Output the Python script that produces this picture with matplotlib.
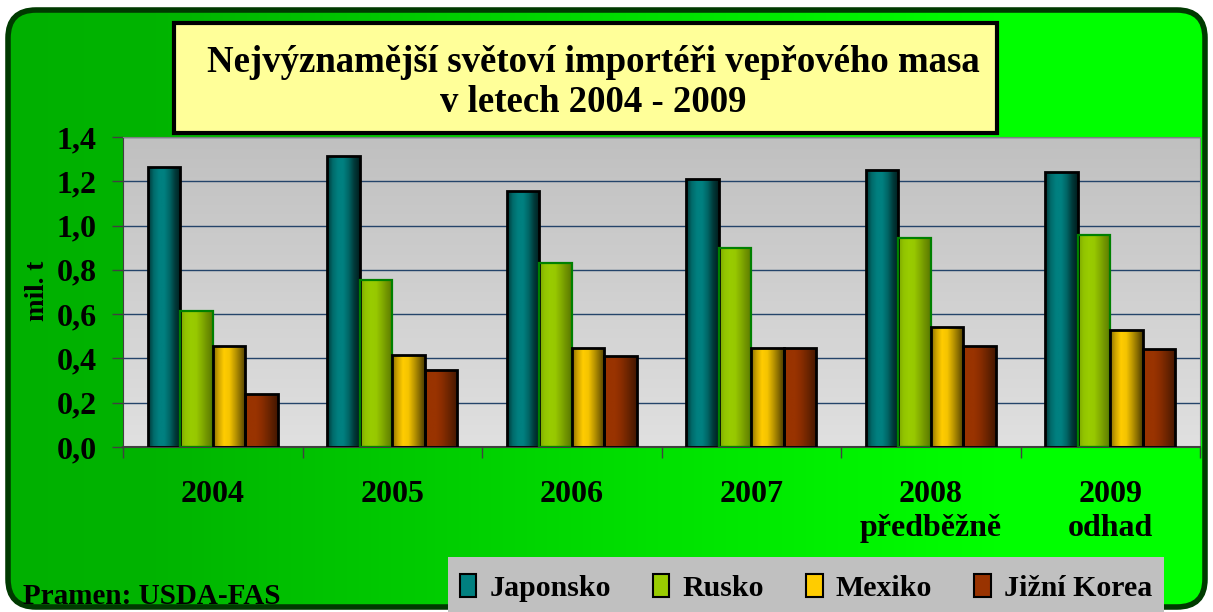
import numpy as np
import matplotlib
matplotlib.use('Agg')
import matplotlib.pyplot as plt
from matplotlib.patches import FancyBboxPatch, Rectangle, Patch
from matplotlib.colors import LinearSegmentedColormap

# data
years = ["2004", "2005", "2006", "2007", "2008\npředběžně", "2009\nodhad"]
series = ["Japonsko", "Rusko", "Mexiko", "Jižní Korea"]
japonsko = [1.266, 1.314, 1.156, 1.210, 1.251, 1.242]
rusko = [0.614, 0.754, 0.832, 0.897, 0.945, 0.959]
mexiko = [0.456, 0.415, 0.447, 0.447, 0.543, 0.528]
korea = [0.239, 0.349, 0.410, 0.447, 0.458, 0.443]

# barevne prechody sloupcu (zleva doprava)
grads = [
    ["#003535", "#006a6a", "#008080", "#008080", "#006464", "#003a3a", "#001e1e"],
    ["#7da600", "#92c400", "#99cc00", "#97c800", "#84ad00", "#6f9200", "#5a7800"],
    ["#8a6e00", "#d0a600", "#ffcc00", "#f5c400", "#c09a00", "#8a6e00", "#4d3d00"],
    ["#993300", "#993300", "#993300", "#8c2e00", "#752700", "#5c1f00", "#441700"],
]
solid = ["#008080", "#99cc00", "#ffcc00", "#993300"]
edges = ["black", "#008000", "black", "black"]

serif = "Liberation Serif"
W, H = 1213, 612
fig = plt.figure(figsize=(W / 100, H / 100), dpi=100)
fig.patch.set_facecolor("white")

# pozadi - zaobleny zeleny ramecek
bg = fig.add_axes([0, 0, 1, 1])
bg.set_xlim(0, W)
bg.set_ylim(H, 0)
bg.axis("off")
frame = FancyBboxPatch((8, 10), 1197, 597, boxstyle="round,pad=0,rounding_size=28",
                       fc="none", ec="#003a00", lw=4, zorder=3)
bg.add_patch(frame)
xs = np.linspace(0, W, 300)
g = np.interp(xs, [0, 150, 1000, W], [0xB0, 0xB4, 0xFF, 0xFF]) / 255
img = np.zeros((2, len(xs), 3))
img[:, :, 1] = g
im = bg.imshow(img, extent=(8, 1205, 607, 10), aspect="auto", zorder=1)
im.set_clip_path(frame)

# titulek
bg.add_patch(Rectangle((174, 23), 823, 110, fc="#ffff99", ec="black", lw=3, zorder=4))
bg.text(593, 63, "Nejvýznamější světoví importéři vepřového masa", ha="center", va="center",
        family=serif, weight="bold", fontsize=26.5, zorder=5)
bg.text(593, 103, "v letech 2004 - 2009", ha="center", va="center",
        family=serif, weight="bold", fontsize=26.5, zorder=5)

# legenda - sede pole
bg.add_patch(Rectangle((448, 557), 716, 60, fc="#c0c0c0", ec="none", zorder=4))
bg.text(23, 596, "Pramen: USDA-FAS", ha="left", va="center",
        family=serif, weight="bold", fontsize=21, zorder=5)

# graf
ax = fig.add_axes([123 / W, 1 - 447 / H, 1077 / W, 310 / H])
x = np.arange(len(years))
w = 0.181
data = [japonsko, rusko, mexiko, korea]
for i, vals in enumerate(data):
    bars = ax.bar(x + (i - 1.5) * w, vals, w, facecolor="none", edgecolor=edges[i],
                  lw=2 if i != 1 else 1.6, zorder=3)
    cmap = LinearSegmentedColormap.from_list("g%d" % i, grads[i])
    for b in bars:
        gi = ax.imshow(np.linspace(0, 1, 64).reshape(1, -1), cmap=cmap, aspect="auto",
                       extent=(b.get_x(), b.get_x() + b.get_width(), 0, b.get_height()),
                       zorder=2)
        gi.set_clip_path(b)

# sede pozadi plochy grafu (nahore tmavsi)
pg = np.linspace(0xC0, 0xE0, 100).reshape(-1, 1) / 255
ax.imshow(np.dstack([pg, pg, pg]), extent=(-0.5, 5.5, 0, 1.4), aspect="auto", zorder=0)

ax.set_xlim(-0.5, 5.5)
ax.set_ylim(0, 1.4)
yt = np.arange(0, 1.41, 0.2)
ax.set_yticks(yt)
ax.set_yticklabels([("%.1f" % v).replace(".", ",") for v in yt])
ax.set_xticks(x)
ax.set_xticklabels(years, linespacing=1.2)
ax.set_xticks(np.arange(-0.5, 6, 1), minor=True)
ax.tick_params(axis="x", which="major", length=0, pad=24)
ax.tick_params(axis="x", which="minor", length=8, width=1, color="#404040", direction="out")
ax.tick_params(axis="y", length=8, width=1, color="#404040", pad=11)
for t in ax.get_xticklabels() + ax.get_yticklabels():
    t.set_family(serif)
    t.set_weight("bold")
    t.set_fontsize(23)
ax.yaxis.grid(True, color="#24446a", lw=1)
ax.set_axisbelow(True)
for s in ["top", "right"]:
    ax.spines[s].set_color("#808080")
ax.spines["left"].set_color("#404040")
ax.spines["bottom"].set_color("#404040")
ax.spines["bottom"].set_linewidth(1.5)

fig.text(37 / W, 1 - 291 / H, "mil. t", rotation=90, ha="center", va="center",
         family=serif, weight="bold", fontsize=19.5)

handles = [Patch(facecolor=solid[i], edgecolor="black", lw=1.5) for i in range(4)]
fig.legend(handles, series, loc="center", bbox_to_anchor=(806 / W, 1 - 588 / H), ncol=4,
           frameon=False, prop={"family": serif, "weight": "bold", "size": 21.5},
           handlelength=0.55, handleheight=0.8, handletextpad=0.45, columnspacing=1.4)

fig.savefig("out.png", dpi=100)
